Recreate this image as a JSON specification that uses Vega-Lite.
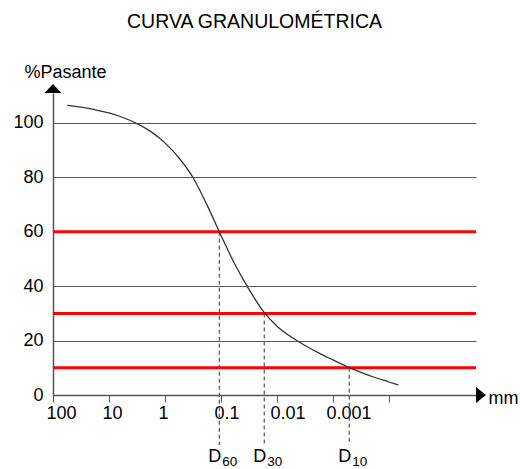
{
  "$schema": "https://vega.github.io/schema/vega-lite/v6.json",
  "autosize": "none",
  "padding": {"left": 53, "top": 93, "right": 44, "bottom": 74},
  "width": 423,
  "height": 302,
  "title": {"text": "CURVA GRANULOMÉTRICA", "fontSize": 19.5, "font": "Liberation Sans", "fontWeight": "normal", "color": "#000", "frame": "group", "anchor": "middle", "dx": -10, "offset": 31},
  "config": {"view": {"stroke": null}, "font": "Liberation Sans"},
  "datasets": {
    "curve": [
      {"d": 55.55, "p": 106.48},
      {"d": 31.62, "p": 105.78},
      {"d": 17.78, "p": 104.86},
      {"d": 10, "p": 103.69},
      {"d": 5.623, "p": 102.0},
      {"d": 3.162, "p": 99.75},
      {"d": 1.778, "p": 96.81},
      {"d": 1, "p": 92.66},
      {"d": 0.5623, "p": 87.11},
      {"d": 0.3162, "p": 79.94},
      {"d": 0.1778, "p": 69.87},
      {"d": 0.1, "p": 58.66},
      {"d": 0.05623, "p": 47.97},
      {"d": 0.03162, "p": 38.85},
      {"d": 0.01778, "p": 30.91},
      {"d": 0.01, "p": 25.3},
      {"d": 0.005623, "p": 21.4},
      {"d": 0.003162, "p": 18.2},
      {"d": 0.001778, "p": 15.4},
      {"d": 0.001, "p": 12.9},
      {"d": 0.0005623, "p": 10.44},
      {"d": 0.0003162, "p": 8.34},
      {"d": 0.0001778, "p": 6.43},
      {"d": 0.0001, "p": 4.78},
      {"d": 0.0000682, "p": 3.68}
    ],
    "limits": [{"p": 60}, {"p": 30}, {"p": 10}],
    "dlines": [
      {"d": 0.107, "p": 60, "sub": "60"},
      {"d": 0.01687, "p": 30, "sub": "30"},
      {"d": 0.000512, "p": 10, "sub": "10"}
    ]
  },
  "layer": [
    {
      "data": {"name": "limits"},
      "mark": {"type": "rule", "color": "#ff0000", "strokeWidth": 3},
      "encoding": {
        "y": {"field": "p", "type": "quantitative", "scale": {"domain": [0, 111], "nice": false, "zero": false},
          "axis": {"values": [0, 20, 40, 60, 80, 100], "grid": true, "gridColor": "#5a5a5a", "gridWidth": 1, "ticks": false, "labelPadding": 10, "labelFontSize": 18, "labelColor": "#000", "labelFont": "Liberation Sans", "domainColor": "#555", "domainWidth": 1.5, "title": "%Pasante", "titleAngle": 0, "titleX": 12, "titleY": -16, "titleAlign": "center", "titleBaseline": "alphabetic", "titleFontSize": 18, "titleFontWeight": "normal", "titleColor": "#000", "titleFont": "Liberation Sans"}}
      }
    },
    {
      "data": {"name": "dlines"},
      "mark": {"type": "rule", "color": "#555", "strokeWidth": 1.2, "strokeDash": [4, 3]},
      "encoding": {
        "x": {"field": "d", "type": "quantitative"},
        "y": {"field": "p", "type": "quantitative"},
        "y2": {"datum": -18.4}
      }
    },
    {
      "data": {"name": "curve"},
      "mark": {"type": "line", "interpolate": "monotone", "color": "#333", "strokeWidth": 1.3},
      "encoding": {
        "x": {"field": "d", "type": "quantitative", "scale": {"type": "log", "domain": [0.00000279, 100], "reverse": true, "nice": false},
          "axis": {"values": [100, 10, 1, 0.1, 0.01, 0.001, 0.0001], "labelExpr": "datum.value < 0.0005 ? '' : format(datum.value, '~g')", "labelAlign": "left", "labelOffset": -7, "labelFontSize": 18, "labelColor": "#000", "labelFont": "Liberation Sans", "labelBaseline": "top", "labelPadding": 2, "labelFlush": false, "labelOverlap": false, "labelBound": false, "tickSize": 7, "tickColor": "#555", "tickWidth": 1, "domainColor": "#555", "domainWidth": 1.5, "grid": false, "title": "mm", "titleX": 435, "titleY": 8, "titleAlign": "left", "titleBaseline": "alphabetic", "titleFontSize": 18, "titleFontWeight": "normal", "titleColor": "#000", "titleFont": "Liberation Sans"}},
        "y": {"field": "p", "type": "quantitative"}
      }
    },
    {
      "data": {"name": "dlines"},
      "mark": {"type": "text", "text": "D", "align": "right", "baseline": "alphabetic", "dx": 2, "fontSize": 18, "color": "#000"},
      "encoding": {
        "x": {"field": "d", "type": "quantitative"},
        "y": {"datum": -24.5}
      }
    },
    {
      "data": {"name": "dlines"},
      "mark": {"type": "text", "align": "left", "baseline": "alphabetic", "dx": 3, "dy": 4, "fontSize": 13.5, "color": "#000"},
      "encoding": {
        "x": {"field": "d", "type": "quantitative"},
        "y": {"datum": -24.5},
        "text": {"field": "sub"}
      }
    },
    {
      "data": {"values": [{"d": 100, "p": 111}]},
      "mark": {"type": "point", "shape": "M-1,0L1,0L0,-1.05Z", "size": 289, "filled": true, "color": "#000", "opacity": 1, "strokeWidth": 0},
      "encoding": {
        "x": {"field": "d", "type": "quantitative"},
        "y": {"field": "p", "type": "quantitative"}
      }
    },
    {
      "data": {"values": [{"d": 0.00000279, "p": 0}]},
      "mark": {"type": "point", "shape": "M0,-1L0,1L1.25,0Z", "size": 256, "filled": true, "color": "#000", "opacity": 1, "strokeWidth": 0},
      "encoding": {
        "x": {"field": "d", "type": "quantitative"},
        "y": {"field": "p", "type": "quantitative"}
      }
    }
  ]
}
